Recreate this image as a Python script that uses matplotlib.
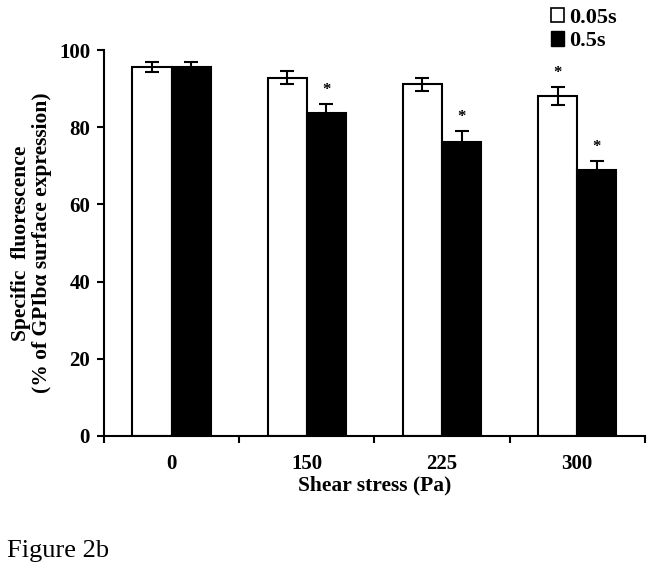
import numpy as np
import matplotlib
matplotlib.use("Agg")
import matplotlib.pyplot as plt
from matplotlib.patches import Patch

plt.rcParams['font.family'] = ['Liberation Serif', 'DejaVu Serif']

categories = ['0', '150', '225', '300']
short_vals = [95.5, 92.8, 91.1, 88.1]
short_err = [1.3, 1.7, 1.7, 2.3]
long_vals = [95.7, 83.8, 76.1, 69.0]
long_err = [1.2, 2.3, 3.0, 2.2]
short_sig = [False, False, False, True]
long_sig = [False, True, True, True]

fig = plt.figure(figsize=(6.54, 5.69), dpi=100)
ax = fig.add_axes([0.159, 0.234, 0.827, 0.678])

x = np.arange(len(categories))
w = 0.29
ekw = dict(ecolor='black', elinewidth=1.5, capsize=5, capthick=1.5)
ax.bar(x - w/2, short_vals, w, color='white', edgecolor='black', linewidth=1.5,
       yerr=short_err, error_kw=ekw, label='0.05s')
ax.bar(x + w/2, long_vals, w, color='black', edgecolor='black', linewidth=1.5,
       yerr=long_err, error_kw=ekw, label='0.5s')

# significance marks
for i in range(len(categories)):
    if short_sig[i]:
        ax.text(x[i] - w/2, short_vals[i] + short_err[i] + 1.6, '*', ha='center', va='bottom',
                fontsize=12, fontweight='bold')
    if long_sig[i]:
        ax.text(x[i] + w/2, long_vals[i] + long_err[i] + 1.6, '*', ha='center', va='bottom',
                fontsize=12, fontweight='bold')

ax.set_xlim(-0.5, len(categories) - 0.5)
ax.set_ylim(0, 100)
ax.set_yticks(range(0, 101, 20))
ax.set_xticks(np.arange(-0.5, len(categories), 1.0))
ax.set_xticklabels([])
ax.set_xticks(x, minor=True)
ax.set_xticklabels(categories, minor=True)
ax.tick_params(axis='x', which='minor', length=0, pad=13, labelsize=15)
ax.tick_params(axis='x', which='major', direction='out', length=5, width=1.5)
ax.tick_params(axis='y', direction='out', length=5, width=1.5, labelsize=15, pad=5)
for lab in ax.get_xticklabels(minor=True) + ax.get_yticklabels():
    lab.set_fontweight('bold')

for s in ['top', 'right']:
    ax.spines[s].set_visible(False)
for s in ['left', 'bottom']:
    ax.spines[s].set_linewidth(1.5)

ax.set_xlabel('Shear stress (Pa)', fontsize=15.5, fontweight='bold', labelpad=1)
ax.set_ylabel('Specific  fluorescence\n(% of GPIb\u03b1 surface expression)', fontsize=15.5,
              fontweight='bold', labelpad=5, linespacing=1.05)

handles = [Patch(facecolor='white', edgecolor='black', linewidth=1.2, label='0.05s'),
           Patch(facecolor='black', edgecolor='black', label='0.5s')]
fig.legend(handles=handles, loc='upper left', bbox_to_anchor=(0.812, 1.021), frameon=False,
           handlelength=0.6, handleheight=0.6, handletextpad=0.2, labelspacing=0.15,
           prop=dict(size=16, weight='bold'))

fig.text(0.01, 0.021, 'Figure 2b', fontsize=19, ha='left', va='baseline')

fig.savefig('out.png', dpi=100)
